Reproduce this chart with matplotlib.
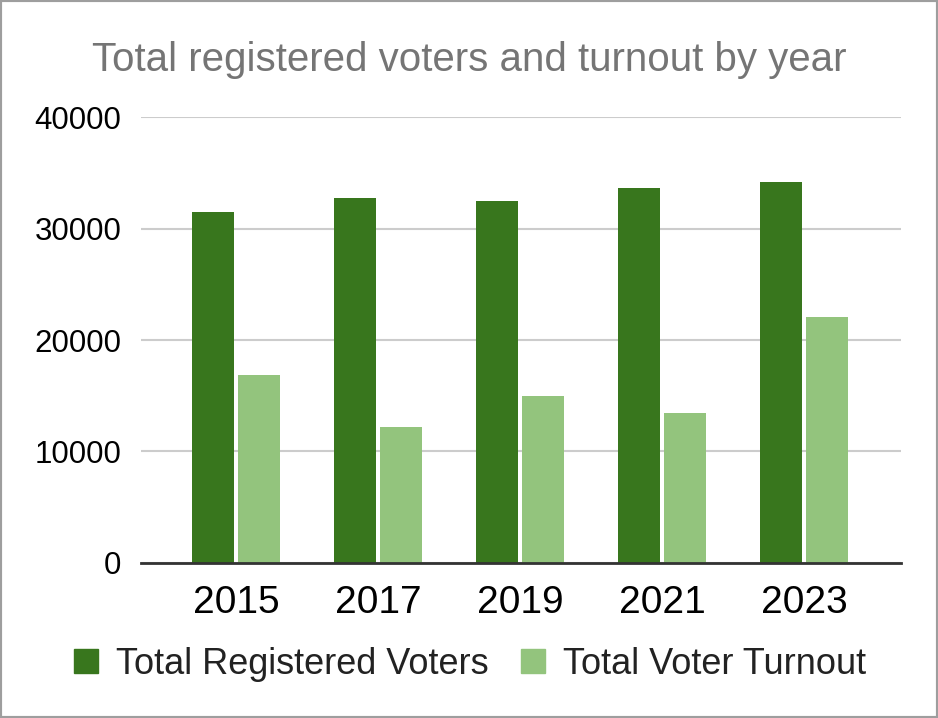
import matplotlib
matplotlib.use("Agg")
import matplotlib.pyplot as plt
import numpy as np
from matplotlib.lines import Line2D
from matplotlib.patches import Rectangle

# Data
years = ["2015", "2017", "2019", "2021", "2023"]
registered = [31500, 32740, 32480, 33630, 34170]
turnout = [16850, 12200, 14970, 13450, 22030]

dark_green = "#38761d"
light_green = "#93c47d"

plt.rcParams["font.family"] = ["Liberation Sans", "DejaVu Sans"]

fig = plt.figure(figsize=(9.38, 7.18), dpi=100)
ax = fig.add_axes([0.1503, 0.2159, 0.8103, 0.6211])

x = np.arange(len(years))
w = 0.296
off = 0.162
ax.bar(x - off, registered, width=w, color=dark_green, zorder=3)
ax.bar(x + off, turnout, width=w, color=light_green, zorder=3)

ax.set_xlim(-0.67, 4.68)
ax.set_ylim(0, 40000)
ax.set_yticks([0, 10000, 20000, 30000, 40000])
ax.set_yticklabels(["0", "10000", "20000", "30000", "40000"], fontsize=22.5)
ax.set_xticks(x)
ax.set_xticklabels(years, fontsize=28)
ax.tick_params(axis="y", length=0, pad=14)
ax.tick_params(axis="x", length=0, pad=16)

ax.grid(axis="y", color="#cccccc", linewidth=1.5, zorder=0)
for s in ["top", "right", "left"]:
    ax.spines[s].set_visible(False)
ax.spines["bottom"].set_color("#333333")
ax.spines["bottom"].set_linewidth(2)
ax.spines["bottom"].set_zorder(4)

fig.text(0.5, 0.9015, "Total registered voters and turnout by year",
         ha="center", va="baseline", fontsize=29, color="#757575")

handles = [
    Line2D([], [], marker="s", linestyle="none", markersize=17.3,
           markerfacecolor=dark_green, markeredgecolor=dark_green),
    Line2D([], [], marker="s", linestyle="none", markersize=17.3,
           markerfacecolor=light_green, markeredgecolor=light_green),
]
fig.legend(handles, ["Total Registered Voters", "Total Voter Turnout"],
           loc="center", bbox_to_anchor=(0.498, 0.075), ncol=2, frameon=False,
           fontsize=26, handletextpad=0.33, columnspacing=0.72, handlelength=1.0,
           labelcolor="#222222")

# gray border around the figure
fig.patches.append(Rectangle((0, 0), 1, 1, transform=fig.transFigure,
                             fill=False, edgecolor="#9e9e9e", linewidth=3))

fig.savefig("out.png", dpi=100)
